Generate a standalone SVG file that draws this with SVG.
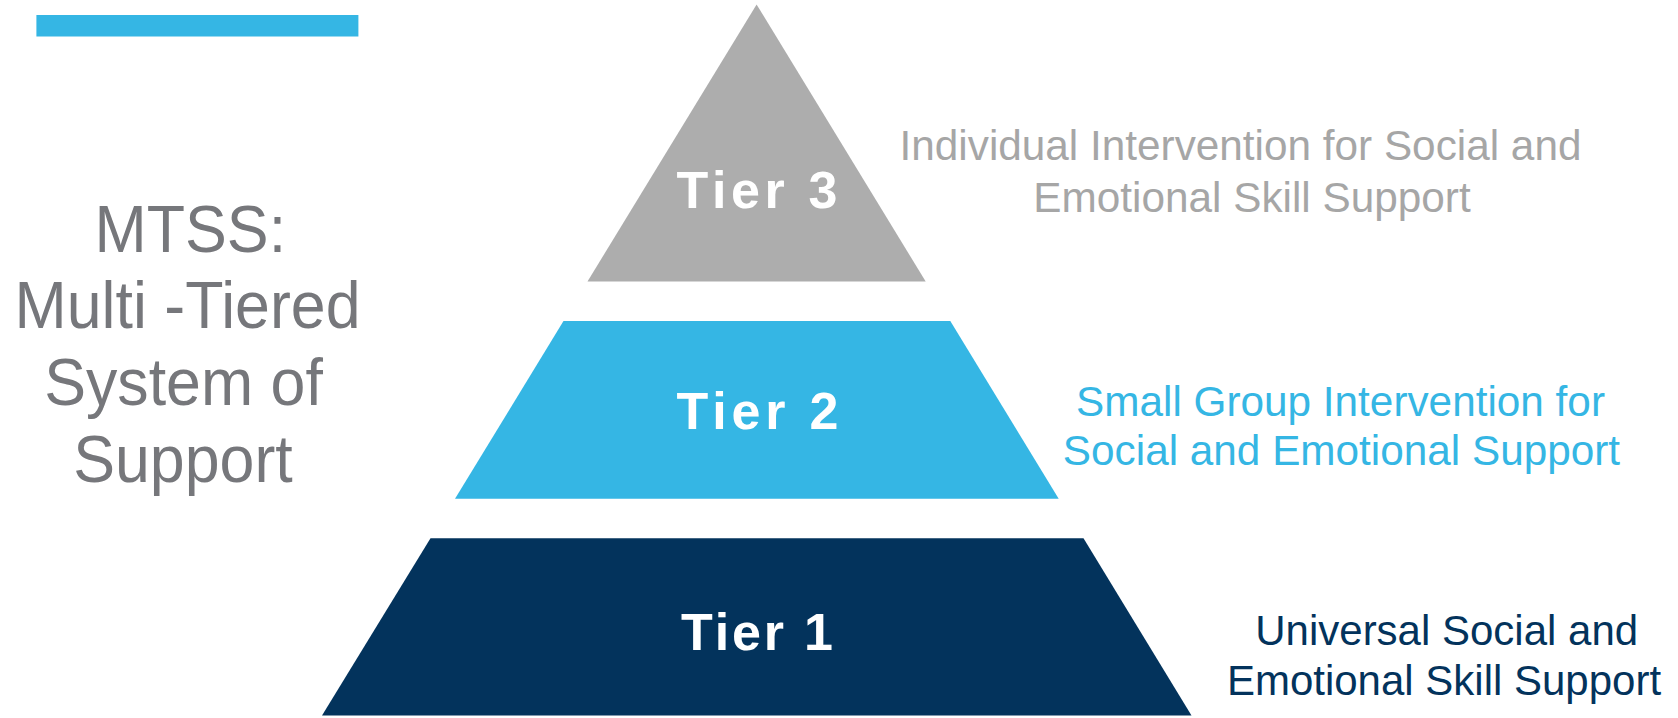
<svg xmlns="http://www.w3.org/2000/svg" width="1678" height="718" viewBox="0 0 1678 718">
<style>
.title{font-family:"Liberation Sans",Arial,sans-serif;font-size:66px;fill:#76777B;text-anchor:middle}
.tier{font-family:"Liberation Sans",Arial,sans-serif;font-size:52px;font-weight:bold;fill:#FFFFFF;text-anchor:middle}
.desc{font-family:"Liberation Sans",Arial,sans-serif;font-size:42.3px;text-anchor:middle}
</style>
<rect x="0" y="0" width="1678" height="718" fill="#FFFFFF"/>
<rect id="accent-bar" x="36.4" y="15" width="322" height="21.5" fill="#35B6E4"/>
<g id="title" transform="scale(0.95,1)">
<text class="title" x="200.3" y="252">MTSS:</text>
<text class="title" x="197.4" y="328.5">Multi -Tiered</text>
<text class="title" x="193.2" y="405">System of</text>
<text class="title" x="192.6" y="482">Support</text>
</g>
<g id="connectors"></g>
<g id="tier3">
<polygon points="756.6,4.5 925.7,281.5 587.5,281.5" fill="#ADADAD"/>
<text class="tier" x="759.3" y="208" letter-spacing="4.6">Tier 3</text>
</g>
<g id="tier2">
<polygon points="563.5,321 950.3,321 1058.7,498.8 455,498.8" fill="#35B6E4"/>
<text class="tier" x="759.9" y="429" letter-spacing="4.8">Tier 2</text>
</g>
<g id="tier1">
<polygon points="430.5,538.3 1083.5,538.3 1191.5,715.5 322,715.5" fill="#03335C"/>
<text class="tier" x="758.4" y="650" letter-spacing="2.8">Tier 1</text>
</g>
<g id="tier3-desc" fill="#A6A6A6">
<text class="desc" x="1240.5" y="160">Individual Intervention for Social and</text>
<text class="desc" x="1252" y="211.5">Emotional Skill Support</text>
</g>
<g id="tier2-desc" fill="#35B6E4">
<text class="desc" x="1340.5" y="415.5">Small Group Intervention for</text>
<text class="desc" x="1341.5" y="465">Social and Emotional Support</text>
</g>
<g id="tier1-desc" fill="#03335C">
<text class="desc" x="1446.7" y="645" style="font-size:42px">Universal Social and</text>
<text class="desc" x="1444" y="694.5" style="font-size:42px">Emotional Skill Support</text>
</g>
</svg>
